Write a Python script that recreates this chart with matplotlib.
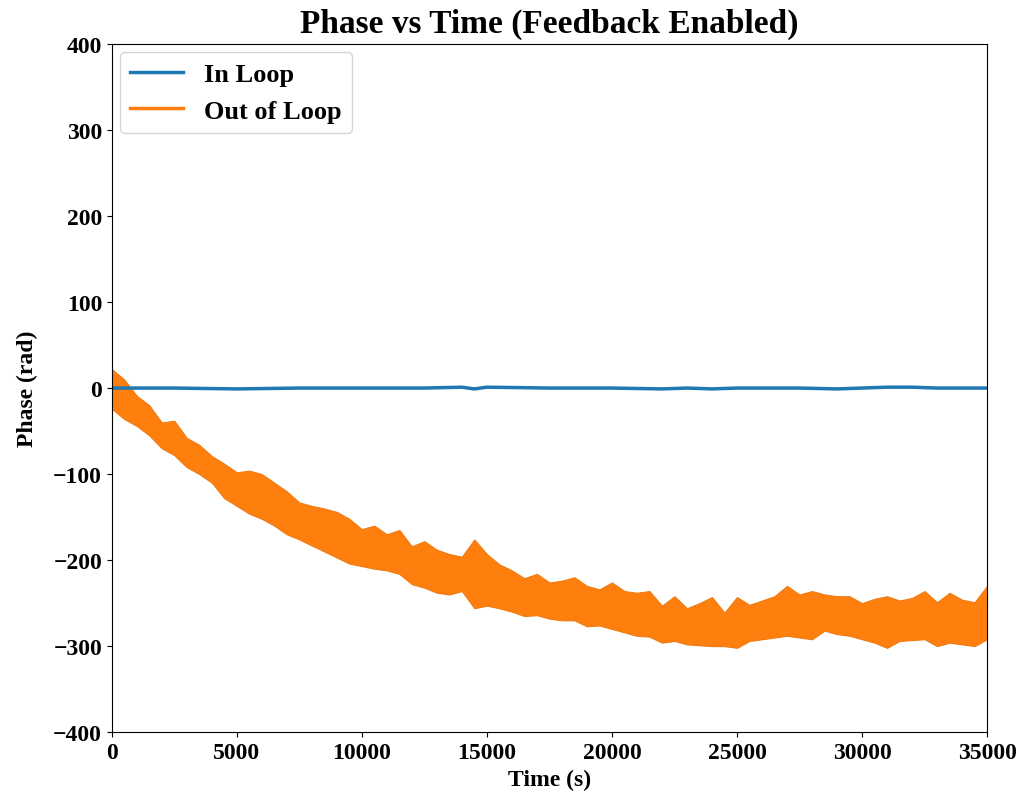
"Phase vs time plot with feedback enabled"

import matplotlib.pyplot as plt

plt.rcParams["font.family"] = ["Liberation Serif", "DejaVu Serif"]
plt.rcParams["font.weight"] = "bold"

#####
# Data
#####

# Out of loop phase: upper and lower edge of the noisy trace every 500 s
out_time = [0, 500, 1000, 1500, 2000, 2500, 3000, 3500, 4000, 4500, 5000,
            5500, 6000, 6500, 7000, 7500, 8000, 8500, 9000, 9500, 10000,
            10500, 11000, 11500, 12000, 12500, 13000, 13500, 14000, 14500, 15000,
            15500, 16000, 16500, 17000, 17500, 18000, 18500, 19000, 19500, 20000,
            20500, 21000, 21500, 22000, 22500, 23000, 23500, 24000, 24500, 25000,
            25500, 26000, 26500, 27000, 27500, 28000, 28500, 29000, 29500, 30000,
            30500, 31000, 31500, 32000, 32500, 33000, 33500, 34000, 34500, 35000]
out_upper = [22, 10, -9, -20, -40, -38, -58, -66, -79, -88, -98,
             -96, -100, -110, -120, -133, -137, -140, -144, -152, -164,
             -160, -170, -165, -184, -178, -188, -193, -196, -176, -193,
             -205, -212, -221, -216, -226, -224, -220, -230, -234, -226,
             -236, -238, -236, -253, -242, -256, -250, -243, -261, -243,
             -252, -247, -242, -230, -240, -236, -240, -242, -242, -250,
             -245, -242, -247, -244, -236, -249, -238, -246, -249, -230]
out_lower = [-24, -36, -44, -55, -70, -78, -92, -100, -110, -128, -137,
             -146, -152, -160, -170, -176, -183, -190, -197, -204, -207,
             -210, -212, -216, -228, -232, -238, -240, -236, -256, -253,
             -256, -260, -265, -264, -268, -270, -270, -277, -276, -280,
             -284, -288, -289, -296, -294, -298, -299, -300, -300, -302,
             -294, -292, -290, -288, -290, -292, -282, -286, -288, -292,
             -296, -302, -294, -293, -292, -300, -296, -298, -300, -292]

# In loop phase: stays at zero with tiny wiggles
in_time = [0, 2500, 5000, 7500, 10000, 12500, 14000, 14500, 15000, 17500,
           20000, 22000, 23000, 24000, 25000, 27500, 29000, 30000, 31000,
           32000, 33000, 35000]
in_phase = [0, 0, -1, 0, 0, 0, 1, -1, 1, 0,
            0, -1, 0, -1, 0, 0, -1, 0, 1,
            1, 0, 0]

xticks = [0, 5000, 10000, 15000, 20000, 25000, 30000, 35000]
yticks = [-400, -300, -200, -100, 0, 100, 200, 300, 400]

#####
# Plot
#####

fig = plt.figure(figsize=(10.25, 8.03), dpi=100)
ax = fig.add_axes([0.109, 0.087, 0.854, 0.857])

ax.plot(in_time, in_phase, color="#1f77b4", linewidth=2.5, label="In Loop")
ax.fill_between(out_time, out_lower, out_upper, color="#ff7f0e", linewidth=0.8,
                edgecolor="#f07a10")
ax.plot([], [], color="#ff7f0e", linewidth=2.5, label="Out of Loop")

ax.set_xlim(0, 35000)
ax.set_ylim(-400, 400)
ax.set_xticks(xticks)
ax.set_yticks(yticks)
ax.tick_params(labelsize=17)

ax.set_xlabel("Time (s)", fontsize=17, fontweight="bold")
ax.set_ylabel("Phase (rad)", fontsize=17, fontweight="bold", labelpad=11)
ax.set_title("Phase vs Time (Feedback Enabled)", fontsize=24, fontweight="bold",
             pad=9)
ax.legend(loc="upper left", fontsize=19, borderaxespad=0.3)

plt.savefig("out.png")
